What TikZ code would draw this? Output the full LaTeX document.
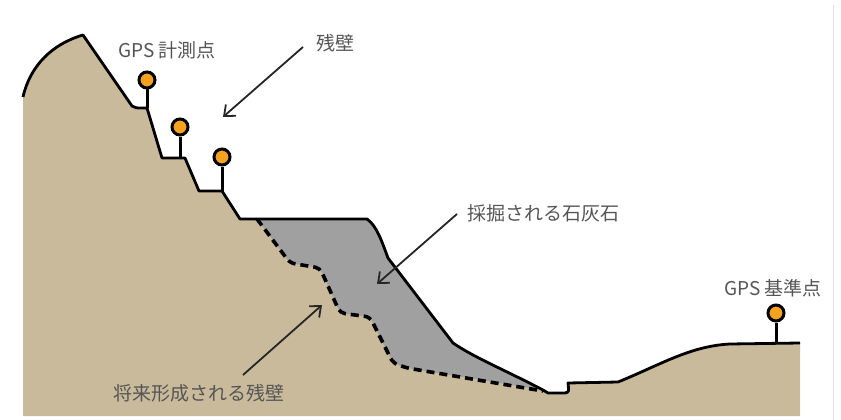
\documentclass[tikz,border=0pt]{standalone}
\usepackage{fontspec}
\newfontfamily\jp{Noto Sans CJK JP}
\usetikzlibrary{arrows.meta}
\definecolor{ground}{HTML}{C9BA9B}
\definecolor{stone}{HTML}{A0A0A0}
\definecolor{marker}{HTML}{F5A31E}
\definecolor{labelgray}{HTML}{555555}
\tikzset{
  outline/.style={line width=2.8pt, line join=round, black},
  futurewall/.style={line width=3.6pt, dash pattern=on 8pt off 5pt, black, rounded corners=5pt},
  pole/.style={line width=3pt, black},
  station/.style={circle, draw=black, line width=3pt, fill=marker, minimum size=16pt, inner sep=0pt},
  label/.style={text=labelgray, font=\jp\fontsize{19}{19}\selectfont, inner sep=0pt},
  pointer/.style={line width=1.8pt, draw=black!85, -{Straight Barb[length=9pt,width=15pt,line width=1.8pt]}}
}
\begin{document}
\begin{tikzpicture}[x=1pt,y=-1pt]
  \useasboundingbox (0,0) rectangle (841,420);
  % edge of the frame on the right
  \draw[black!12, line width=0.8pt] (833,5) -- (833,420);

  % ground body
  \fill[ground] (23,416) -- (23,97) .. controls (30,66) and (52,44) .. (83,35)
    -- (132,106) .. controls (135,108) .. (147,108) -- (162,158) -- (185,158)
    -- (199,191) -- (222,191) -- (240,219) -- (367,219)
    .. controls (377,226) and (382,242) .. (388,258) -- (453,343)
    .. controls (475,358) and (505,370) .. (543,390)
    -- (548,393) -- (565,393) .. controls (569,392) .. (568,383) -- (618,382)
    .. controls (660,365) and (690,346) .. (730,344) -- (800,343)
    -- (800,416) -- cycle;

  % limestone to be quarried
  \fill[stone, rounded corners=5pt] (257,219) -- (367,219)
    [sharp corners] .. controls (377,226) and (382,242) .. (388,258) -- (453,343)
    .. controls (475,358) and (505,370) .. (543,390)
    [rounded corners=5pt] -- (407,368) -- (393,363) -- (370,317) -- (340,313)
    -- (320,268) -- (290,263) -- cycle;

  % surface line
  \draw[outline] (23,97) .. controls (30,66) and (52,44) .. (83,35)
    -- (132,106) .. controls (135,108) .. (147,108) -- (162,158) -- (185,158)
    -- (199,191) -- (222,191) -- (240,219) -- (367,219)
    .. controls (377,226) and (382,242) .. (388,258) -- (453,343)
    .. controls (475,358) and (505,370) .. (543,390)
    -- (548,393) -- (565,393) .. controls (569,392) .. (568,383) -- (618,382)
    .. controls (660,365) and (690,346) .. (730,344) -- (800,343);

  % future wall
  \draw[futurewall] (257,219) -- (290,263) -- (320,268) -- (340,313) -- (370,317)
    -- (393,363) -- (407,368) -- (543,391);

  % GPS stations
  \coordinate (b1) at (147,108);
  \coordinate (b2) at (180,158);
  \coordinate (b3) at (222,191);
  \coordinate (b4) at (776,343);
  \node[station] (s1) at (147,80) {};
  \node[station] (s2) at (180,127) {};
  \node[station] (s3) at (222,157) {};
  \node[station] (s4) at (776,313) {};
  \draw[pole] (s1) -- (b1);
  \draw[pole] (s2) -- (b2);
  \draw[pole] (s3) -- (b3);
  \draw[pole] (s4) -- (b4);

  % labels
  \node[label] (gps1) at (167,50) {GPS 計測点};
  \node[label] (wall) at (335,43) {残壁};
  \node[label] (lime) at (543,213) {採掘される石灰石};
  \node[label] (gps2) at (773,288) {GPS 基準点};
  \node[label] (fwall) at (199,393) {将来形成される残壁};

  % arrows
  \coordinate (wallstart) at (303,47);
  \coordinate (walltip) at (223,117);
  \coordinate (limestart) at (457,214);
  \coordinate (limetip) at (377,284);
  \coordinate (fwallstart) at (243,375);
  \coordinate (fwalltip) at (322,305);
  \draw[pointer] (wallstart) -- (walltip);
  \draw[pointer] (limestart) -- (limetip);
  \draw[pointer] (fwallstart) -- (fwalltip);
\end{tikzpicture}
\end{document}
